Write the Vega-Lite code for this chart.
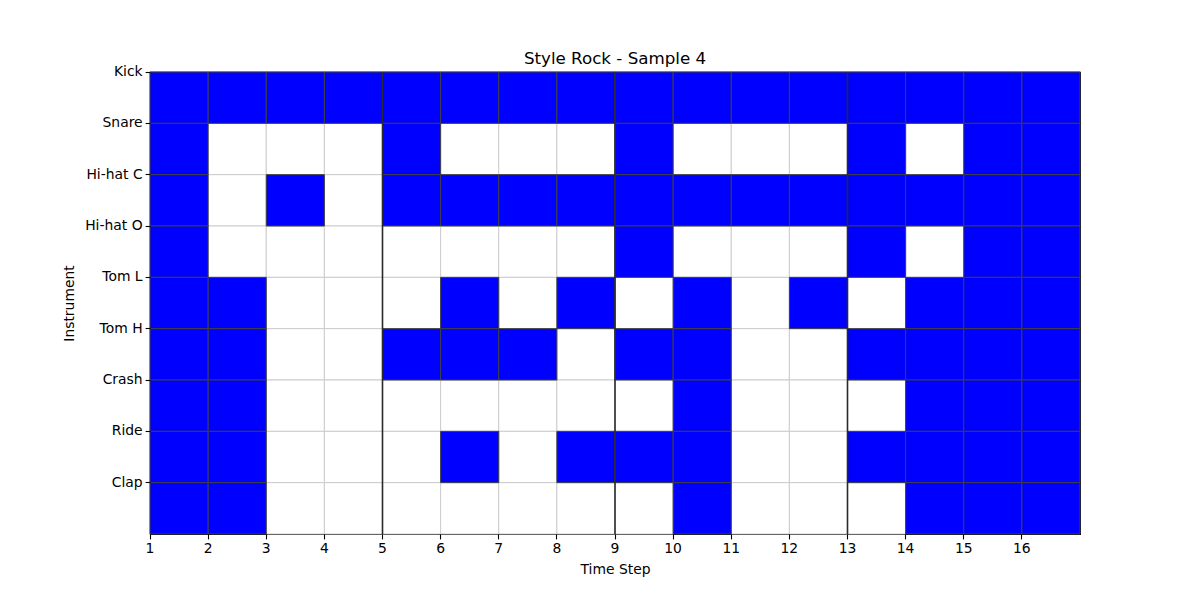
{
  "$schema": "https://vega.github.io/schema/vega-lite/v6.json",
  "width": 930,
  "height": 462,
  "autosize": {"type": "none"},
  "padding": {"left": 150, "top": 72, "right": 120, "bottom": 66},
  "background": "white",
  "config": {
    "view": {"stroke": "black", "strokeWidth": 1.1},
    "font": "DejaVu Sans",
    "axis": {
      "labelFont": "DejaVu Sans", "labelFontSize": 13.9, "labelColor": "black",
      "titleFont": "DejaVu Sans", "titleFontSize": 13.9, "titleFontWeight": "normal", "titleColor": "black",
      "tickColor": "black", "tickSize": 4.9, "tickWidth": 1.1, "labelPadding": 3,
      "domain": false, "grid": false, "labelAngle": 0
    },
    "title": {"font": "DejaVu Sans", "fontSize": 16.7, "fontWeight": "normal", "color": "black", "offset": 6, "frame": "group", "dy": 9}
  },
  "title": {"text": "Style Rock - Sample 4", "anchor": "middle", "frame": "group", "dy": 9},
  "datasets": {
    "cells": [
      {"step":1,"instrument":"Kick","hit":1},{"step":2,"instrument":"Kick","hit":1},{"step":3,"instrument":"Kick","hit":1},{"step":4,"instrument":"Kick","hit":1},{"step":5,"instrument":"Kick","hit":1},{"step":6,"instrument":"Kick","hit":1},{"step":7,"instrument":"Kick","hit":1},{"step":8,"instrument":"Kick","hit":1},{"step":9,"instrument":"Kick","hit":1},{"step":10,"instrument":"Kick","hit":1},{"step":11,"instrument":"Kick","hit":1},{"step":12,"instrument":"Kick","hit":1},{"step":13,"instrument":"Kick","hit":1},{"step":14,"instrument":"Kick","hit":1},{"step":15,"instrument":"Kick","hit":1},{"step":16,"instrument":"Kick","hit":1},
      {"step":1,"instrument":"Snare","hit":1},{"step":2,"instrument":"Snare","hit":0},{"step":3,"instrument":"Snare","hit":0},{"step":4,"instrument":"Snare","hit":0},{"step":5,"instrument":"Snare","hit":1},{"step":6,"instrument":"Snare","hit":0},{"step":7,"instrument":"Snare","hit":0},{"step":8,"instrument":"Snare","hit":0},{"step":9,"instrument":"Snare","hit":1},{"step":10,"instrument":"Snare","hit":0},{"step":11,"instrument":"Snare","hit":0},{"step":12,"instrument":"Snare","hit":0},{"step":13,"instrument":"Snare","hit":1},{"step":14,"instrument":"Snare","hit":0},{"step":15,"instrument":"Snare","hit":1},{"step":16,"instrument":"Snare","hit":1},
      {"step":1,"instrument":"Hi-hat C","hit":1},{"step":2,"instrument":"Hi-hat C","hit":0},{"step":3,"instrument":"Hi-hat C","hit":1},{"step":4,"instrument":"Hi-hat C","hit":0},{"step":5,"instrument":"Hi-hat C","hit":1},{"step":6,"instrument":"Hi-hat C","hit":1},{"step":7,"instrument":"Hi-hat C","hit":1},{"step":8,"instrument":"Hi-hat C","hit":1},{"step":9,"instrument":"Hi-hat C","hit":1},{"step":10,"instrument":"Hi-hat C","hit":1},{"step":11,"instrument":"Hi-hat C","hit":1},{"step":12,"instrument":"Hi-hat C","hit":1},{"step":13,"instrument":"Hi-hat C","hit":1},{"step":14,"instrument":"Hi-hat C","hit":1},{"step":15,"instrument":"Hi-hat C","hit":1},{"step":16,"instrument":"Hi-hat C","hit":1},
      {"step":1,"instrument":"Hi-hat O","hit":1},{"step":2,"instrument":"Hi-hat O","hit":0},{"step":3,"instrument":"Hi-hat O","hit":0},{"step":4,"instrument":"Hi-hat O","hit":0},{"step":5,"instrument":"Hi-hat O","hit":0},{"step":6,"instrument":"Hi-hat O","hit":0},{"step":7,"instrument":"Hi-hat O","hit":0},{"step":8,"instrument":"Hi-hat O","hit":0},{"step":9,"instrument":"Hi-hat O","hit":1},{"step":10,"instrument":"Hi-hat O","hit":0},{"step":11,"instrument":"Hi-hat O","hit":0},{"step":12,"instrument":"Hi-hat O","hit":0},{"step":13,"instrument":"Hi-hat O","hit":1},{"step":14,"instrument":"Hi-hat O","hit":0},{"step":15,"instrument":"Hi-hat O","hit":1},{"step":16,"instrument":"Hi-hat O","hit":1},
      {"step":1,"instrument":"Tom L","hit":1},{"step":2,"instrument":"Tom L","hit":1},{"step":3,"instrument":"Tom L","hit":0},{"step":4,"instrument":"Tom L","hit":0},{"step":5,"instrument":"Tom L","hit":0},{"step":6,"instrument":"Tom L","hit":1},{"step":7,"instrument":"Tom L","hit":0},{"step":8,"instrument":"Tom L","hit":1},{"step":9,"instrument":"Tom L","hit":0},{"step":10,"instrument":"Tom L","hit":1},{"step":11,"instrument":"Tom L","hit":0},{"step":12,"instrument":"Tom L","hit":1},{"step":13,"instrument":"Tom L","hit":0},{"step":14,"instrument":"Tom L","hit":1},{"step":15,"instrument":"Tom L","hit":1},{"step":16,"instrument":"Tom L","hit":1},
      {"step":1,"instrument":"Tom H","hit":1},{"step":2,"instrument":"Tom H","hit":1},{"step":3,"instrument":"Tom H","hit":0},{"step":4,"instrument":"Tom H","hit":0},{"step":5,"instrument":"Tom H","hit":1},{"step":6,"instrument":"Tom H","hit":1},{"step":7,"instrument":"Tom H","hit":1},{"step":8,"instrument":"Tom H","hit":0},{"step":9,"instrument":"Tom H","hit":1},{"step":10,"instrument":"Tom H","hit":1},{"step":11,"instrument":"Tom H","hit":0},{"step":12,"instrument":"Tom H","hit":0},{"step":13,"instrument":"Tom H","hit":1},{"step":14,"instrument":"Tom H","hit":1},{"step":15,"instrument":"Tom H","hit":1},{"step":16,"instrument":"Tom H","hit":1},
      {"step":1,"instrument":"Crash","hit":1},{"step":2,"instrument":"Crash","hit":1},{"step":3,"instrument":"Crash","hit":0},{"step":4,"instrument":"Crash","hit":0},{"step":5,"instrument":"Crash","hit":0},{"step":6,"instrument":"Crash","hit":0},{"step":7,"instrument":"Crash","hit":0},{"step":8,"instrument":"Crash","hit":0},{"step":9,"instrument":"Crash","hit":0},{"step":10,"instrument":"Crash","hit":1},{"step":11,"instrument":"Crash","hit":0},{"step":12,"instrument":"Crash","hit":0},{"step":13,"instrument":"Crash","hit":0},{"step":14,"instrument":"Crash","hit":1},{"step":15,"instrument":"Crash","hit":1},{"step":16,"instrument":"Crash","hit":1},
      {"step":1,"instrument":"Ride","hit":1},{"step":2,"instrument":"Ride","hit":1},{"step":3,"instrument":"Ride","hit":0},{"step":4,"instrument":"Ride","hit":0},{"step":5,"instrument":"Ride","hit":0},{"step":6,"instrument":"Ride","hit":1},{"step":7,"instrument":"Ride","hit":0},{"step":8,"instrument":"Ride","hit":1},{"step":9,"instrument":"Ride","hit":1},{"step":10,"instrument":"Ride","hit":1},{"step":11,"instrument":"Ride","hit":0},{"step":12,"instrument":"Ride","hit":0},{"step":13,"instrument":"Ride","hit":1},{"step":14,"instrument":"Ride","hit":1},{"step":15,"instrument":"Ride","hit":1},{"step":16,"instrument":"Ride","hit":1},
      {"step":1,"instrument":"Clap","hit":1},{"step":2,"instrument":"Clap","hit":1},{"step":3,"instrument":"Clap","hit":0},{"step":4,"instrument":"Clap","hit":0},{"step":5,"instrument":"Clap","hit":0},{"step":6,"instrument":"Clap","hit":0},{"step":7,"instrument":"Clap","hit":0},{"step":8,"instrument":"Clap","hit":0},{"step":9,"instrument":"Clap","hit":0},{"step":10,"instrument":"Clap","hit":1},{"step":11,"instrument":"Clap","hit":0},{"step":12,"instrument":"Clap","hit":0},{"step":13,"instrument":"Clap","hit":0},{"step":14,"instrument":"Clap","hit":1},{"step":15,"instrument":"Clap","hit":1},{"step":16,"instrument":"Clap","hit":1}
    ],
    "bars": [{"step": 5}, {"step": 9}, {"step": 13}]
  },
  "encoding": {
    "x": {
      "field": "step", "type": "ordinal",
      "scale": {"domain": [1,2,3,4,5,6,7,8,9,10,11,12,13,14,15,16], "paddingInner": 0, "paddingOuter": 0},
      "axis": {"title": "Time Step", "titlePadding": 7, "labelAngle": 0, "bandPosition": 0, "labelOffset": -29.06}
    },
    "y": {
      "field": "instrument", "type": "nominal",
      "scale": {"domain": ["Kick","Snare","Hi-hat C","Hi-hat O","Tom L","Tom H","Crash","Ride","Clap"], "paddingInner": 0, "paddingOuter": 0},
      "axis": {"title": "Instrument", "titlePadding": 8, "bandPosition": 0, "labelOffset": -25.67}
    }
  },
  "layer": [
    {
      "data": {"name": "cells"},
      "transform": [{"filter": "datum.hit == 0"}],
      "mark": {"type": "rect", "fill": "white", "stroke": "#cccccc", "strokeWidth": 1}
    },
    {
      "data": {"name": "cells"},
      "transform": [{"filter": "datum.hit == 1"}],
      "mark": {"type": "rect", "fill": "#0000ff", "stroke": "#3f3f3f", "strokeWidth": 1}
    },
    {
      "data": {"name": "bars"},
      "mark": {"type": "rule", "color": "#2a2a2a", "strokeWidth": 1.6},
      "encoding": {
        "x": {"field": "step", "type": "ordinal", "bandPosition": 0},
        "y": null
      }
    }
  ]
}
